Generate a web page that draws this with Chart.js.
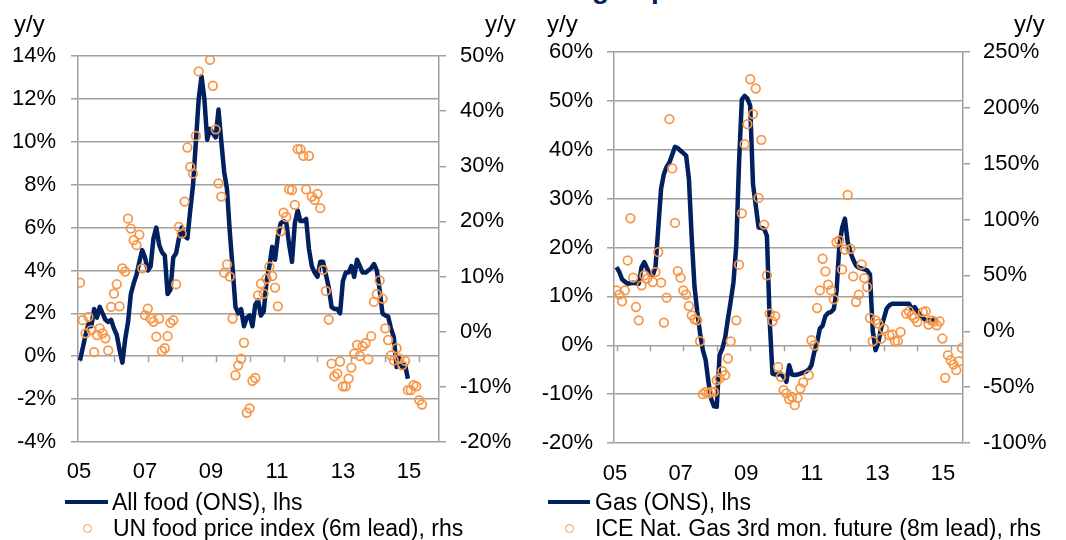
<!DOCTYPE html>
<html>
<head>
<meta charset="utf-8">
<script src="https://cdn.jsdelivr.net/npm/chart.js@4.4.1/dist/chart.umd.min.js"></script>
<style>
  body { margin: 0; width: 1066px; height: 540px; overflow: hidden; background: #fff; position: relative;
         font-family: "Liberation Sans", Arial, sans-serif; color: #000; }
  canvas { position: absolute; top: 0; }
  .yy { position: absolute; top: 11px; font-size: 24px; line-height: 26px; }
  .leg { position: absolute; font-size: 23px; line-height: 26px; white-space: nowrap; }
  .legLine { position: absolute; height: 4px; background: #002060; }
  .legDot { position: absolute; width: 9px; height: 9px; box-sizing: border-box; border: 1.75px solid #f79646; border-radius: 50%; }
  .title { position: absolute; top: -25px; left: 592px; font-size: 28px; line-height: 28px; font-weight: bold; color: #002060; white-space: nowrap; }
</style>
</head>
<body>
<div class="title">g to p</div>

<canvas id="foodChart" width="533" height="540" style="left:0"></canvas>
<canvas id="gasChart" width="533" height="540" style="left:533px"></canvas>

<div class="yy" style="left:14px">y/y</div>
<div class="yy" style="left:485px">y/y</div>
<div class="yy" style="left:547px">y/y</div>
<div class="yy" style="left:1014px">y/y</div>

<div class="legLine" style="left:65px;top:500px;width:43px"></div>
<div class="leg" style="left:112px;top:489px">All food (ONS), lhs</div>
<div class="legDot" style="left:83px;top:524px"></div>
<div class="leg" style="left:113px;top:515px">UN food price index (6m lead), rhs</div>

<div class="legLine" style="left:548px;top:500px;width:42px"></div>
<div class="leg" style="left:595px;top:489px">Gas (ONS), lhs</div>
<div class="legDot" style="left:565px;top:524px"></div>
<div class="leg" style="left:595px;top:515px">ICE Nat. Gas 3rd mon. future (8m lead), rhs</div>

<script>
// monthly series, index 0 = Jan 2005 (values in % y/y)
const xLabels = ['05', '07', '09', '11', '13', '15'];
const labelTicks = [0, 24, 48, 72, 96, 120];
const yearTicks = [0, 12, 24, 36, 48, 60, 72, 84, 96, 108, 120];

const foodOns = [
  -0.2, 0.4, 1.0, 1.5, 1.4, 2.2, 1.8, 2.3, 2.0, 1.7,
  1.6, 1.7, 1.3, 1.0, 0.3, -0.3, 0.8, 1.6, 2.9, 3.4,
  3.8, 4.4, 4.95, 4.6, 4.0, 4.2, 5.5, 6.0, 5.2, 4.85,
  4.7, 2.9, 3.1, 4.6, 4.8, 5.5, 6.0, 5.6, 5.5, 6.8,
  8.0, 10.0, 12.0, 13.05, 12.0, 10.1, 10.6, 10.4, 10.2, 11.5,
  10.0, 8.6, 7.8, 5.8, 4.1, 2.3, 2.0, 2.2, 1.4, 1.8,
  1.9, 1.4, 2.4, 2.6, 1.9, 2.1, 3.5, 4.2, 5.1, 4.5,
  5.6, 6.2, 6.3, 6.2, 5.2, 4.4, 6.2, 6.8, 6.3, 6.3,
  6.4, 5.0, 4.2, 3.9, 3.7, 4.4, 4.4, 3.8, 3.2, 2.3,
  2.2, 2.2, 2.0, 3.5, 3.9, 3.9, 4.2, 3.7, 4.5, 4.2,
  3.9, 3.9, 4.0, 4.1, 4.3, 4.0, 3.1, 2.0, 1.9, 1.85,
  1.3, 0.9, -0.5, -0.1, -0.5, -0.4, -1.05
];

const unFood6m = [
  8.9, 2.1, -0.3, 2.7, 0.3, -3.7, -0.6, 0.6, -0.3, -1.2,
  -3.4, 4.5, 6.9, 8.6, 4.6, 11.5, 10.9, 20.5, 18.7, 16.6,
  15.7, 17.6, 11.5, 3.0, 4.2, 2.4, 1.8, -0.9, 2.4, -3.5,
  -3.0, -0.8, 1.6, 2.1, 8.6, 19.0, 17.8, 23.6, 33.4, 29.9,
  28.7, 35.5, 47.2, null, null, null, 49.3, 44.6, 36.7, 26.9,
  24.5, 10.7, 12.2, 10.0, 2.4, -7.9, -6.1, -4.9, -2.0, -14.7,
  -13.9, -8.9, -8.4, 6.6, 8.7, 6.9, 9.6, 11.8, 10.1, 8.0,
  4.6, 18.2, 21.6, 20.8, 25.8, 25.7, 23.0, 33.1, 33.1, 31.9,
  25.8, 31.9, 24.5, 23.9, 25.0, 22.4, 11.2, 7.4, 2.2, -5.8,
  -8.1, -7.6, -5.4, -9.9, -9.9, -8.5, -6.5, -4.0, -2.4, -4.4,
  -2.6, -2.1, -5.0, -0.8, 5.4, 6.8, 9.3, 6.0, 0.6, -1.5,
  -4.3, -5.2, -3.0, -4.9, -6.1, -5.3, -10.6, -10.6, -9.7, -9.9,
  -12.4, -13.2
];

const gasOns = [
  16.0, 15.0, 13.5, 13.0, 12.6, 12.7, 12.8, 12.7, 12.6, 16.0,
  17.0, 15.7, 14.5, 14.3, 16.0, 24.0, 32.0, 35.0, 36.5, 37.4,
  39.0, 40.6, 40.3, 39.8, 39.3, 38.8, 34.0, 22.0, 12.0, 6.8,
  2.5, -1.0, -3.0, -7.5, -11.0, -12.5, -12.6, -2.0, -0.7, 1.5,
  5.4, 9.0, 12.9, 20.4, 37.4, 50.3, 51.0, 50.5, 49.0, 33.0,
  28.6, 24.1, 24.0, 23.8, 22.4, 5.0, -5.8, -6.0, -6.0, -5.8,
  -6.5, -7.5, -4.1, -6.0, -6.1, -6.0, -5.8, -5.6, -5.4, -5.0,
  -4.1, -1.4, 0.5, 3.4, 4.0, 6.0, 6.6, 6.8, 7.4, 11.0,
  20.4, 24.0, 25.9, 21.1, 19.0, 17.5, 16.3, 15.9, 15.7, 15.5,
  15.3, 14.5, 3.0, -1.0, 0.5, 3.5, 5.5, 7.5, 8.2, 8.5,
  8.5, 8.5, 8.5, 8.5, 8.5, 8.5, 7.5, 7.8, 7.0, 6.2,
  5.6, 5.1, 5.1, 5.1, 5.1, 5.1
];

const iceGas8m = [
  36.6, 32.8, 26.8, 36.6, 63.4, 101.2, 48.0, 21.7, 9.8, 41.1,
  50.0, 47.1, null, 44.1, 53.0, 70.8, 43.5, 7.8, 30.1, 189.9,
  145.8, 97.0, 53.9, 48.0, 36.6, 32.8, 22.6, 14.3, 10.7, 9.8,
  -8.9, -56.3, -54.2, -55.6, -54.2, -54.2, -43.8, -42.2, -35.7, -39.3,
  -24.4, -9.0, null, 9.8, 59.6, 105.6, 167.6, 185.4, 225.6, 194.4,
  217.3, 119.4, 171.4, 95.5, 50.0, 15.8, 8.9, 13.6, -31.9, -40.8,
  -52.7, -55.6, -60.7, -58.7, -66.1, -59.6, -51.2, -45.8, null, -39.3,
  -8.0, -12.5, 20.8, 36.6, 64.9, 53.6, 41.7, 36.6, 28.6, 79.7,
  81.3, 55.4, 73.2, 122.0, 73.8, 49.1, 26.2, 32.8, 59.8, 47.6,
  39.6, 11.9, -8.9, 9.8, 6.9, -6.5, 2.4, null, -3.6, -2.9,
  -8.9, -8.9, -0.6, null, 15.8, 17.9, 14.3, 11.9, 8.3, null,
  17.2, 17.9, 6.0, 9.8, 8.9, 5.4, 8.9, -6.5, -41.7, -21.4,
  -25.9, -29.7, -34.8, -26.8, -14.9
];

const NAVY = '#002060';
const ORANGE = '#f79646';
const GRID = '#a0a0a0';

Chart.defaults.font.family = '"Liberation Sans", Arial, sans-serif';
Chart.defaults.font.size = 22;
Chart.defaults.color = '#000';

// small tick marks hanging from the 0% line (the category axis crosses there)
const zeroTicks = {
  id: 'zeroTicks',
  beforeDatasetsDraw(chart) {
    const ctx = chart.ctx;
    const xs = chart.scales.x;
    const y0 = chart.scales.y.getPixelForValue(0);
    ctx.save();
    ctx.strokeStyle = GRID;
    ctx.lineWidth = 1.5;
    yearTicks.forEach(function(v) {
      const px = Math.round(xs.getPixelForValue(v)) + 0.5;
      ctx.beginPath();
      ctx.moveTo(px, y0);
      ctx.lineTo(px, y0 + 6);
      ctx.stroke();
    });
    ctx.restore();
  }
};

function monthPoints(values) {
  return values.map(function(v, i) { return { x: i, y: v }; });
}

function makeChart(id, o) {
  const ctx = document.getElementById(id).getContext('2d');
  return new Chart(ctx, {
    type: 'line',
    data: {
      datasets: [{
        label: o.dotLabel,
        data: monthPoints(o.dots),
        xAxisID: 'x',
        yAxisID: 'y2',
        showLine: false,
        pointRadius: 4.3,
        pointBorderWidth: 1.75,
        pointBorderColor: ORANGE,
        pointBackgroundColor: 'rgba(255,255,255,0)',
        borderColor: ORANGE,
        order: 0
      }, {
        label: o.lineLabel,
        data: monthPoints(o.line),
        xAxisID: 'x',
        yAxisID: 'y',
        borderColor: NAVY,
        borderWidth: 4.5,
        borderJoinStyle: 'round',
        pointRadius: 0,
        tension: 0,
        fill: false,
        order: 1
      }]
    },
    options: {
      responsive: false,
      animation: false,
      layout: { padding: { top: o.top, left: 0, right: 0, bottom: 0 } },
      plugins: { legend: { display: false }, tooltip: { enabled: false } },
      scales: {
        // data axis (monthly), no labels of its own
        x: {
          type: 'linear', position: 'bottom', min: o.xMin, max: o.xMax,
          grid: { display: false }, border: { display: false },
          ticks: { display: false },
          afterFit: function(s) { s.height = 0; }
        },
        // label axis at the bottom of the plot
        xl: {
          type: 'linear', position: 'bottom', min: o.lblMin, max: o.lblMax,
          grid: { display: false }, border: { display: false },
          afterBuildTicks: function(s) { s.ticks = labelTicks.map(function(v) { return { value: v }; }); },
          ticks: {
            padding: o.xPad, maxRotation: 0, autoSkip: false,
            callback: function(v, i) { return xLabels[i]; }
          },
          afterFit: function(s) { s.height = o.xHeight; }
        },
        y: {
          position: 'left', min: o.lhs[0], max: o.lhs[1],
          ticks: { stepSize: o.lhs[2], padding: o.yPad, callback: function(v) { return v + '%'; } },
          grid: { color: GRID, lineWidth: 1.5, tickLength: 7 },
          border: { color: GRID, width: 1.5 },
          afterFit: function(s) { s.width = o.leftW; }
        },
        y2: {
          position: 'right', min: o.rhs[0], max: o.rhs[1],
          ticks: { stepSize: o.rhs[2], padding: o.y2Pad, callback: function(v) { return v + '%'; } },
          grid: { drawOnChartArea: false, color: GRID, lineWidth: 1.5, tickLength: 7 },
          border: { color: GRID, width: 1.5 },
          afterFit: function(s) { s.width = o.rightW; }
        }
      }
    },
    plugins: [zeroTicks]
  });
}

makeChart('foodChart', {
  lineLabel: 'All food (ONS), lhs', dotLabel: 'UN food price index (6m lead), rhs',
  line: foodOns, dots: unFood6m,
  lhs: [-4, 14, 2], rhs: [-20, 50, 10],
  xMin: -0.7, xMax: 127, lblMin: -0.36, lblMax: 130.9,
  top: 56, leftW: 78, rightW: 94, xHeight: 98,
  yPad: 15, y2Pad: 14, xPad: 9
});

makeChart('gasChart', {
  lineLabel: 'Gas (ONS), lhs', dotLabel: 'ICE Nat. Gas 3rd mon. future (8m lead), rhs',
  line: gasOns, dots: iceGas8m,
  lhs: [-20, 60, 10], rhs: [-100, 250, 50],
  xMin: -0.9, xMax: 124.4, lblMin: -0.37, lblMax: 127.3,
  top: 52, leftW: 81, rightW: 103, xHeight: 97,
  yPad: 14, y2Pad: 13, xPad: 10
});
</script>
</body>
</html>
